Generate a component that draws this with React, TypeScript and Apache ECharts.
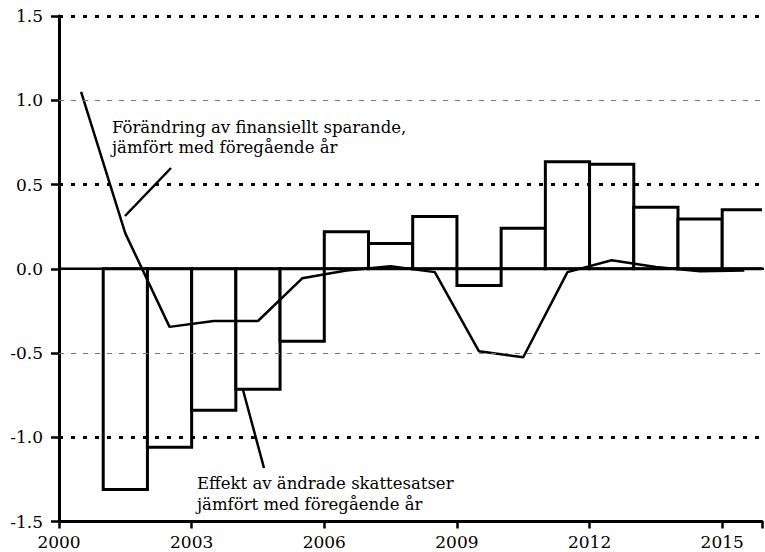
import React, { useEffect, useRef } from "react";
import * as echarts from "echarts";

// Bars: effect of changed tax rates (start year of each bar)
const barYears = [2001, 2002, 2003, 2004, 2005, 2006, 2007, 2008, 2009, 2010, 2011, 2012, 2013, 2014, 2015];
const barValues = [-1.31, -1.06, -0.84, -0.715, -0.43, 0.22, 0.15, 0.31, -0.1, 0.24, 0.635, 0.62, 0.365, 0.295, 0.35];

// Line: change in financial saving (mid-year points)
const lineYears = [2000.5, 2001.5, 2002.5, 2003.5, 2004.5, 2005.5, 2006.5, 2007.5, 2008.5, 2009.5, 2010.5, 2011.5, 2012.5, 2013.5, 2014.5, 2015.5];
const lineValues = [1.05, 0.21, -0.345, -0.31, -0.31, -0.057, -0.01, 0.015, -0.02, -0.49, -0.525, -0.02, 0.05, 0.01, -0.015, -0.01];

// Grid lines and whether each is heavy
const gridValues = [1.5, 1.0, 0.5, -0.5, -1.0, -1.5];
const gridHeavy = [true, false, true, false, true, true];

const xTicks = [2000, 2003, 2006, 2009, 2012, 2015];

const upperLabel = ["Förändring av finansiellt sparande,", "jämfört med föregående år"];
const lowerLabel = ["Effekt av ändrade skattesatser", "jämfört med föregående år"];

const FONT = "DejaVu Serif";

export default function App() {
  const ref = useRef<HTMLDivElement>(null);
  useEffect(() => {
    document.body.style.margin = "0";
    const chart = echarts.init(ref.current!, null, { renderer: "svg" });
    const markData = gridValues.map((v, i) => ({
      yAxis: v,
      lineStyle: gridHeavy[i]
        ? { color: "#000", width: 3, type: [4, 8] as any }
        : { color: "#777", width: 1, type: [5, 7] as any },
    }));
    const txt = (s: string, x: number, y: number) => ({
      type: "text",
      x,
      y,
      style: { text: s, fontFamily: FONT, fontSize: 16.5, fill: "#000", verticalAlign: "middle" },
    });
    chart.setOption({
      animation: false,
      backgroundColor: "#fff",
      grid: { left: 59, right: 0, top: 16, bottom: 30.5 },
      xAxis: {
        type: "value",
        min: 2000,
        max: 2015.9,
        interval: 3,
        axisLine: { show: true, onZero: false, lineStyle: { color: "#000", width: 3 } },
        axisTick: { show: true, length: 7, lineStyle: { color: "#000", width: 2.5 } },
        axisLabel: {
          color: "#000",
          fontFamily: FONT,
          fontSize: 17,
          margin: 12,
          formatter: (v: number) => (xTicks.indexOf(v) >= 0 ? String(v) : ""),
        },
        splitLine: { show: false },
      },
      yAxis: {
        type: "value",
        min: -1.5,
        max: 1.5,
        interval: 0.5,
        axisLine: { show: true, onZero: false, lineStyle: { color: "#000", width: 3 } },
        axisTick: { show: true, length: 8, lineStyle: { color: "#000", width: 2.5 } },
        axisLabel: {
          color: "#000",
          fontFamily: FONT,
          fontSize: 17,
          margin: 16,
          formatter: (v: number) => v.toFixed(1),
        },
        splitLine: { show: false },
      },
      series: [
        {
          type: "line",
          z: 1,
          data: [[2000, 0]],
          symbol: "none",
          lineStyle: { opacity: 0 },
          silent: true,
          markLine: { silent: true, symbol: ["none", "none"], label: { show: false }, data: markData },
        },
        {
          type: "custom",
          z: 2,
          clip: true,
          data: barYears.map((y, i) => [y, barValues[i]]),
          renderItem: (params: any, api: any) => {
            const x0 = api.value(0);
            const v = api.value(1);
            const p1 = api.coord([x0, 0]);
            const p2 = api.coord([x0 + 1, v]);
            return {
              type: "rect",
              shape: { x: p1[0], y: Math.min(p1[1], p2[1]), width: p2[0] - p1[0], height: Math.abs(p2[1] - p1[1]) },
              style: { fill: "#fff", stroke: "#000", lineWidth: 3 },
            };
          },
        },
        {
          type: "line",
          z: 3,
          data: [[2000, 0], [2016, 0]],
          symbol: "none",
          lineStyle: { color: "#000", width: 2.5 },
          silent: true,
        },
        {
          type: "line",
          z: 4,
          data: lineYears.map((y, i) => [y, lineValues[i]]),
          symbol: "none",
          lineStyle: { color: "#000", width: 2.5 },
        },
      ],
      graphic: [
        txt(upperLabel[0], 112, 127),
        txt(upperLabel[1], 112, 147),
        txt(lowerLabel[0], 197, 483),
        txt(lowerLabel[1], 197, 504),
        { type: "line", shape: { x1: 171, y1: 168, x2: 125, y2: 216 }, style: { stroke: "#000", lineWidth: 2.5 } },
        { type: "line", shape: { x1: 243, y1: 390, x2: 264, y2: 468 }, style: { stroke: "#000", lineWidth: 2.5 } },
      ],
    });
    return () => chart.dispose();
  }, []);
  return <div ref={ref} style={{ width: 765, height: 552 }} />;
}
